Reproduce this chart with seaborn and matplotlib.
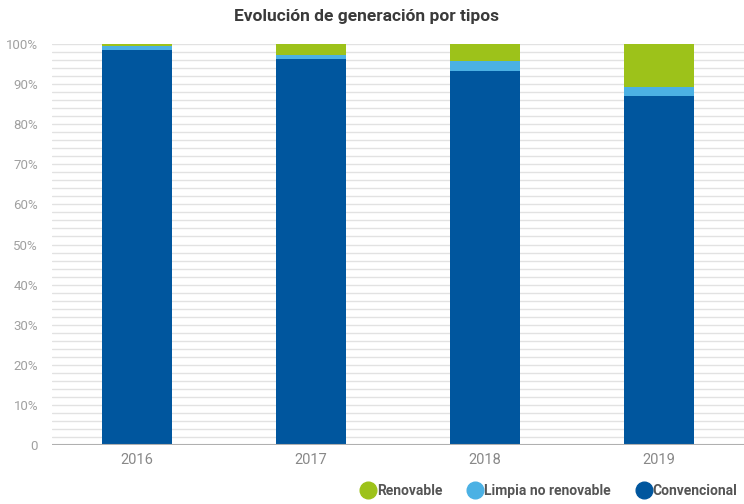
import matplotlib
matplotlib.use("Agg")
import matplotlib.pyplot as plt
from matplotlib.lines import Line2D
import seaborn as sns
import pandas as pd
import numpy as np

years = ["2016", "2017", "2018", "2019"]
convencional = [98.5, 96.3, 93.2, 87.0]
limpia = [1.0, 0.9, 2.5, 2.3]
renovable = [0.5, 2.8, 4.3, 10.7]

series_names = ["Renovable", "Limpia no renovable", "Convencional"]
colors = {"Renovable": "#9DC21A", "Limpia no renovable": "#4BB1E4", "Convencional": "#00569E"}
yticks = [0, 10, 20, 30, 40, 50, 60, 70, 80, 90, 100]
ytick_labels = ["0"] + [f"{v}%" for v in yticks[1:]]

sns.set_theme(style="white")
plt.rcParams['font.family'] = ['Roboto', 'DejaVu Sans']

df = pd.DataFrame({"year": years, "conv": convencional, "limp": limpia, "ren": renovable})
df["lvl2"] = df["conv"] + df["limp"]
df["lvl3"] = df["lvl2"] + df["ren"]

fig = plt.figure(figsize=(7.44, 5.04), dpi=100)
ax = fig.add_axes([52/744, 1-445/504, 1-52/744, (445-44)/504])

# gridlines every 2%
for v in np.arange(2, 101, 2):
    ax.axhline(v, color="#e2e2e2", lw=1.0, zorder=0)
ax.axhline(0, color="#b0b0b0", lw=1.5, zorder=3)

w = 0.4
sns.barplot(data=df, x="year", y="lvl3", order=years, color=colors["Renovable"],
            width=w, saturation=1, ax=ax, zorder=2, edgecolor="none")
sns.barplot(data=df, x="year", y="lvl2", order=years, color=colors["Limpia no renovable"],
            width=w, saturation=1, ax=ax, zorder=2, edgecolor="none")
sns.barplot(data=df, x="year", y="conv", order=years, color=colors["Convencional"],
            width=w, saturation=1, ax=ax, zorder=2, edgecolor="none")

ax.set_xlim(-0.49, 3.49)
ax.set_ylim(0, 100)
ax.set_yticks(yticks)
ax.set_yticklabels(ytick_labels, color="#a0a0a0", fontsize=9.5)
ax.set_xticks(range(len(years)))
ax.set_xticklabels(years, color="#888888", fontsize=10.5)
ax.tick_params(axis="y", length=0, pad=10)
ax.tick_params(axis="x", length=0, pad=6)
ax.set_xlabel("")
ax.set_ylabel("")
for s in ax.spines.values():
    s.set_visible(False)

fig.text(366/744, 1-17/504, "Evolución de generación por tipos", ha="center", va="center",
         fontsize=12.5, fontweight="bold", color="#3a3a3a")

handles = [Line2D([0], [0], marker="o", linestyle="none", markersize=12,
                  markerfacecolor=colors[n], markeredgecolor=colors[n]) for n in series_names]
leg = fig.legend(handles, series_names, loc="lower right", bbox_to_anchor=(1.008, -0.012),
                 ncol=3, frameon=False, handletextpad=-0.1, columnspacing=1.6,
                 handlelength=1.5, prop={"weight": "bold", "size": 10})
for t in leg.get_texts():
    t.set_color("#555555")

fig.savefig("out.png", dpi=100)
